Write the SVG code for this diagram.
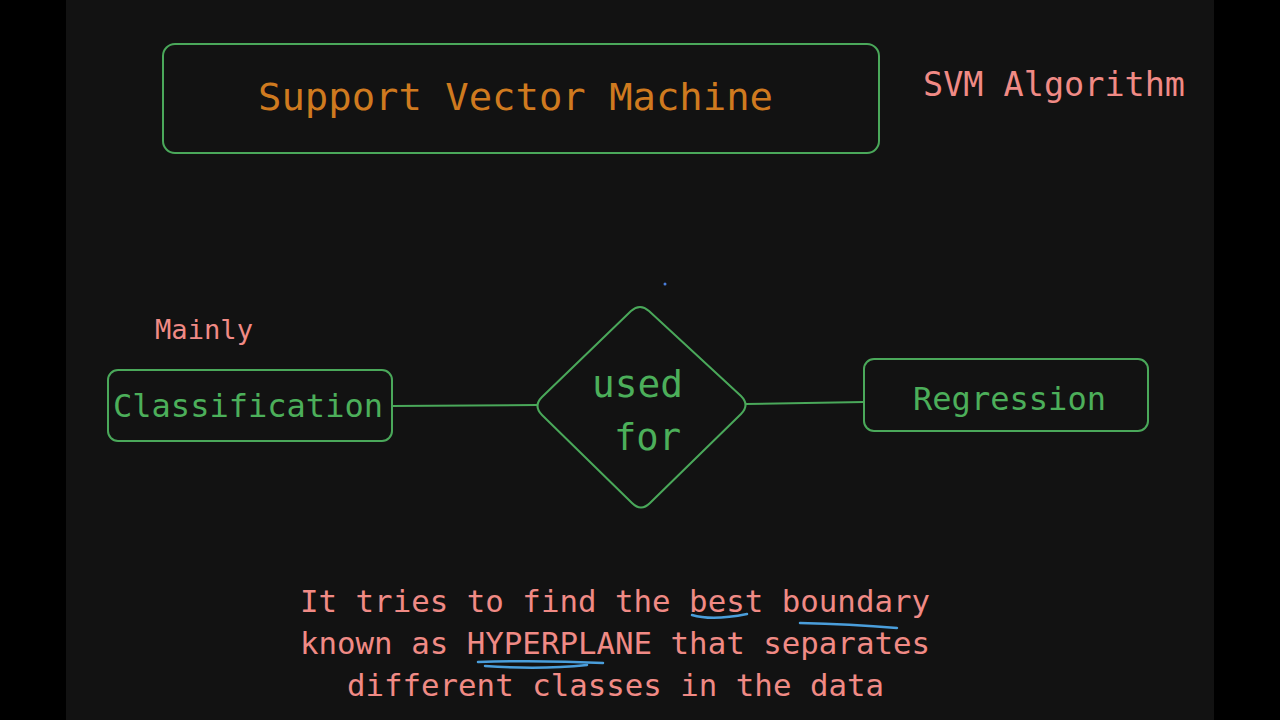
<svg xmlns="http://www.w3.org/2000/svg" width="1280" height="720" viewBox="0 0 1280 720">
<style>
.box{fill:none;stroke:#4aa85a;stroke-width:2}
.gt{fill:#4caf5a;font-family:"DejaVu Sans Mono","Liberation Mono",monospace}
.pt{fill:#f08a85;font-family:"DejaVu Sans Mono","Liberation Mono",monospace}
.ot{fill:#cf7a1f;font-family:"DejaVu Sans Mono","Liberation Mono",monospace}
.ul{fill:none;stroke:#4a9edb;stroke-width:2.5;stroke-linecap:round}
</style>
<rect x="0" y="0" width="1280" height="720" fill="#000"/>
<rect x="66" y="0" width="1148" height="720" fill="#121212"/>
<g id="title">
<rect class="box" x="163" y="44" width="716" height="109" rx="12"/>
<text class="ot" x="258" y="110" font-size="38" textLength="515" lengthAdjust="spacingAndGlyphs">Support Vector Machine</text>
</g>
<g id="svm-label">
<text class="pt" x="923" y="96" font-size="33" textLength="262" lengthAdjust="spacingAndGlyphs">SVM Algorithm</text>
</g>
<g id="mainly">
<text class="pt" x="155" y="339" font-size="27" textLength="98" lengthAdjust="spacingAndGlyphs">Mainly</text>
</g>
<g id="connectors">
<line class="box" x1="392" y1="406" x2="537" y2="405"/>
<line class="box" x1="746" y1="404" x2="864" y2="402"/>
</g>
<g id="classification">
<rect class="box" x="108" y="370" width="284" height="71" rx="10"/>
<text class="gt" x="113" y="417" font-size="32" textLength="270" lengthAdjust="spacingAndGlyphs">Classification</text>
</g>
<g id="used-for">
<path class="box" d="M631,311 Q640,303 649,311 L741,396 Q750,405 741,414 L650,503 Q641,512 632,503 L542,415 Q533,406 542,397 Z"/>
<text class="gt" x="592" y="397" font-size="38" textLength="91" lengthAdjust="spacingAndGlyphs">used</text>
<text class="gt" x="614" y="450" font-size="38" textLength="67" lengthAdjust="spacingAndGlyphs">for</text>
</g>
<g id="regression">
<rect class="box" x="864" y="359" width="284" height="72" rx="10"/>
<text class="gt" x="913" y="410" font-size="32" textLength="193" lengthAdjust="spacingAndGlyphs">Regression</text>
</g>
<circle cx="665" cy="284" r="1.5" fill="#4a7edb"/>
<g id="description">
<text class="pt" x="300" y="612" font-size="31" textLength="630" lengthAdjust="spacingAndGlyphs">It tries to find the best boundary</text>
<text class="pt" x="300" y="654" font-size="31" textLength="630" lengthAdjust="spacingAndGlyphs">known as HYPERPLANE that separates</text>
<text class="pt" x="347" y="696" font-size="31" textLength="537" lengthAdjust="spacingAndGlyphs">different classes in the data</text>
<path class="ul" d="M692,615 Q712,621 747,614"/>
<path class="ul" d="M800,623 Q850,624 897,628"/>
<path class="ul" d="M478,662 Q540,660 603,663"/>
<path class="ul" d="M485,666 Q540,670 587,665"/>
</g>
</svg>
